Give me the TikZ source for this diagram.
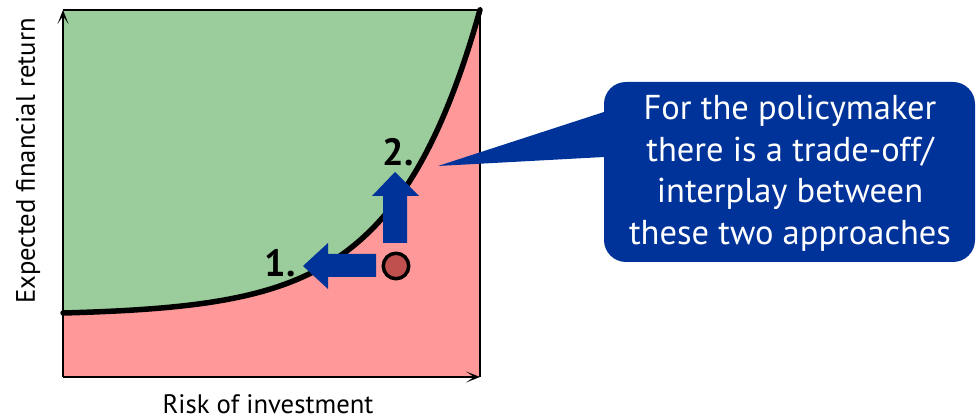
\documentclass[tikz,border=0pt]{standalone}
\usepackage{fontspec}
\setmainfont{PT Sans}
\usetikzlibrary{arrows.meta}
\definecolor{grn}{RGB}{155,204,155}
\definecolor{pnk}{RGB}{255,153,153}
\definecolor{dblue}{RGB}{0,51,153}
\definecolor{dotred}{RGB}{192,80,77}
\tikzset{
  axisline/.style={line width=1.3pt,-{Stealth[length=14pt,width=11pt,inset=8pt]}},
  fatarrow/.style={fill=dblue,draw=none},
  numlabel/.style={font=\fontsize{38}{40}\selectfont\bfseries,inner sep=0pt},
  axislabel/.style={font=\fontsize{26.7}{30}\selectfont,inner sep=0pt},
  calltext/.style={font=\fontsize{34.5}{41.5}\selectfont,text=white,align=center,inner sep=0pt}
}
\begin{document}
\begin{tikzpicture}[x=1pt,y=1pt]
\useasboundingbox (0,0) rectangle (979,419);
% fills
\fill[pnk] (63,42) rectangle (480,409);
\fill[grn] (63,409) -- (63,106) -- plot[domain=63:480,samples=120] (\x,{106+2.32*(exp(0.0117*(\x-63))-1)}) -- cycle;
% frame
\draw[line width=1.3pt] (63,409) -- (480,409) -- (480,42);
\coordinate (o) at (63,42);
\coordinate (ytop) at (63,409);
\coordinate (xend) at (480,42);
\draw[axisline] (o) -- (ytop);
\draw[axisline] (o) -- (xend);
% curve
\draw[line width=5.5pt,line cap=round] plot[domain=63:480,samples=120] (\x,{106+2.32*(exp(0.0117*(\x-63))-1)});
% fat arrows
\fill[fatarrow] (376,165) -- (376,142) -- (328,142) -- (328,130) -- (303,153) -- (328,176) -- (328,165) -- cycle;
\fill[fatarrow] (383,176) -- (407,176) -- (407,223) -- (419,223) -- (395,247) -- (372,223) -- (383,223) -- cycle;
% dot
\node[circle,draw=black,line width=3.5pt,fill=dotred,minimum size=25.5pt,inner sep=0pt] (dot) at (396,153) {};
% labels
\node[numlabel] (n1) at (280,156) {1.};
\node[numlabel] (n2) at (398,267) {2.};
\node[axislabel] (xl) at (268,15) {Risk of investment};
\node[axislabel,rotate=90] (yl) at (28,258) {Expected financial return};
% callout
\fill[dblue] (604,307) -- (438,253) -- (604,262) -- cycle;
\node[fill=dblue,rounded corners=22pt,minimum width=371pt,minimum height=180pt,inner sep=0pt] (box) at (789.5,247) {};
\node[calltext] (ct) at (790,246) {For the policymaker\\there is a trade-off/\\interplay between\\these two approaches};
\end{tikzpicture}
\end{document}
